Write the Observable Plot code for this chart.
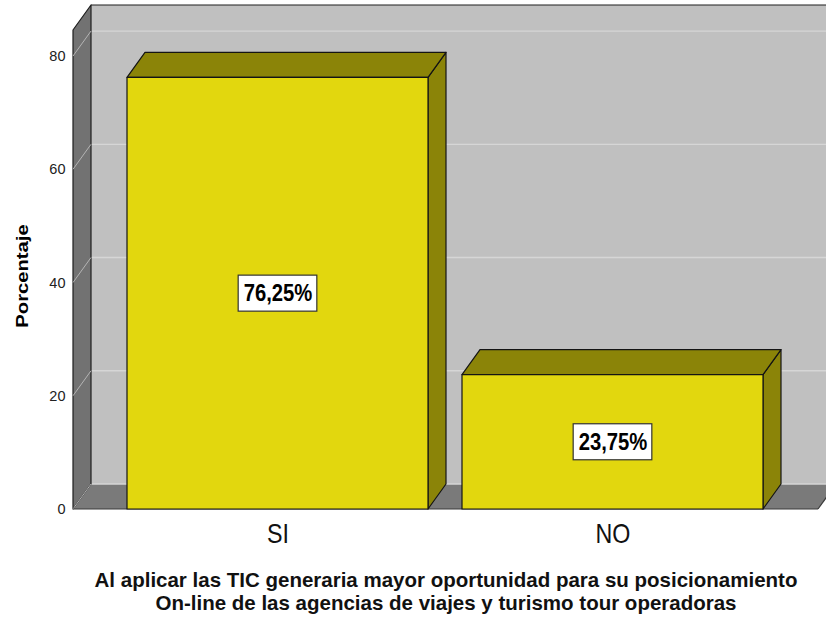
<!DOCTYPE html>
<html><head><meta charset="utf-8">
<script src="https://cdn.jsdelivr.net/npm/d3@7"></script>
<script src="https://cdn.jsdelivr.net/npm/@observablehq/plot@0.6"></script>
<style>
body{margin:0;background:#fff;}
#chart{width:826px;height:560px;}
#caption{font-family:"Liberation Sans",Arial,sans-serif;font-weight:bold;font-size:20.5px;line-height:22.5px;text-align:center;width:760px;padding-left:66px;margin-top:9px;color:#111;}
#caption div{white-space:nowrap;}
</style></head><body>
<div id="chart"></div>
<div id="caption"><div id="cap1"></div><div id="cap2"></div></div>
<script>
const categories = ["SI", "NO"];
const percentages = [76.25, 23.75];
const valueLabels = ["76,25%", "23,75%"];
const yTicks = [0, 20, 40, 60, 80];
const yLabel = "Porcentaje";
const captionLines = [
  "Al aplicar las TIC generaria mayor oportunidad para su posicionamiento",
  "On-line de las agencias de viajes y turismo tour operadoras"
];

const data = categories.map((c, i) => ({category: c, value: percentages[i], label: valueLabels[i]}));

const FONT = '"Liberation Sans",Arial,sans-serif';
const DX = 18, DY = -25;
const NS = "http://www.w3.org/2000/svg";
function el(tag, attrs) {
  const e = document.createElementNS(NS, tag);
  for (const k in attrs) e.setAttribute(k, attrs[k]);
  return e;
}
function pts(a) { return a.map(p => p.join(",")).join(" "); }

function walls(index, scales, values, dims) {
  const g = el("g", {});
  const y = scales.y;
  const xL = dims.marginLeft, xR = dims.width - dims.marginRight;
  const yB = y(0), yT = dims.marginTop;
  g.append(el("rect", {x: xL + DX, y: yT + DY, width: xR - xL + 2, height: yB - yT, fill: "#c0c0c0"}));
  g.append(el("polygon", {points: pts([[xL, yB], [xR, yB], [xR + DX, yB + DY], [xL + DX, yB + DY]]), fill: "#7a7a7a"}));
  for (const t of yTicks) {
    g.append(el("line", {x1: xL + DX, x2: xR + DX + 4, y1: y(t) + DY, y2: y(t) + DY, stroke: "#d6d6d6", "stroke-width": 1.3}));
  }
  g.append(el("polygon", {points: pts([[xL, yT], [xL + DX, yT + DY], [xL + DX, yB + DY], [xL, yB]]), fill: "#727272", stroke: "#1e1e1e", "stroke-width": 1.2, "stroke-linejoin": "round"}));
  for (const t of yTicks) {
    g.append(el("line", {x1: xL, x2: xL + DX, y1: y(t), y2: y(t) + DY, stroke: "#b4b4b4", "stroke-width": 1}));
  }
  g.append(el("line", {x1: xL + DX, x2: xR + DX + 4, y1: yT + DY, y2: yT + DY, stroke: "#1e1e1e", "stroke-width": 1.2}));
  g.append(el("line", {x1: xL, x2: xR, y1: yB, y2: yB, stroke: "#3a3a3a", "stroke-width": 1.2}));
  g.append(el("line", {x1: xR, x2: xR + DX, y1: yB, y2: yB + DY, stroke: "#3a3a3a", "stroke-width": 1.2}));
  return g;
}

function bars3d(index, scales, values, dims) {
  const g = el("g", {});
  const x = scales.x, y = scales.y;
  const bw = x.bandwidth();
  data.forEach(d => {
    const x0 = x(d.category), x1 = x0 + bw, y0 = y(0), y1 = y(d.value);
    const common = {stroke: "#141414", "stroke-width": 1.2, "stroke-linejoin": "round"};
    g.append(el("polygon", Object.assign({points: pts([[x1, y0], [x1, y1], [x1 + DX, y1 + DY], [x1 + DX, y0 + DY]]), fill: "#8b8408"}, common)));
    g.append(el("polygon", Object.assign({points: pts([[x0, y1], [x0 + DX, y1 + DY], [x1 + DX, y1 + DY], [x1, y1]]), fill: "#8b8408"}, common)));
    g.append(el("rect", Object.assign({x: x0, y: y1, width: bw, height: y0 - y1, fill: "#e2d70e"}, common)));
  });
  return g;
}

const ctx = document.createElement("canvas").getContext("2d");
function labelBoxes(index, scales, values, dims) {
  const g = el("g", {});
  const x = scales.x, y = scales.y;
  const bw = x.bandwidth();
  ctx.font = "bold 23px " + FONT;
  data.forEach(d => {
    const cx = x(d.category) + bw / 2, cy = y(d.value / 2);
    const w = ctx.measureText(d.label).width * 0.88 + 10, h = 36;
    g.append(el("rect", {x: cx - w / 2, y: cy - h / 2, width: w, height: h, fill: "#ffffff", stroke: "#333", "stroke-width": 1.2}));
  });
  return g;
}

const chart = Plot.plot({
  width: 826,
  height: 560,
  marginTop: 30,
  marginBottom: 51,
  marginLeft: 73,
  marginRight: 8,
  style: {fontFamily: FONT, fontSize: "14.5px", color: "#222", background: "#fff"},
  x: {type: "band", domain: categories, range: [110.25, 779.75], paddingInner: 0.1015, paddingOuter: 0.05, axis: null},
  y: {domain: [0, 84.6], ticks: yTicks, tickSize: 0, tickPadding: 8, label: null},
  marks: [
    walls,
    bars3d,
    labelBoxes,
    Plot.text(data, {x: "category", y: d => d.value / 2, text: "label", fontSize: 23, fontWeight: "bold", fill: "#000"}),
    Plot.text(data, {x: "category", y: () => 0, text: "category", fontSize: 28, dy: 25, fill: "#111"}),
    Plot.text([yLabel], {frameAnchor: "left", text: d => d, rotate: -90, textAnchor: "middle", dx: -51, dy: 6, fontSize: 17, fontWeight: "bold", fill: "#000"})
  ]
});
document.getElementById("chart").append(chart);

// horizontal squeeze of the label glyphs, as in the original rendering
function squeeze(t, f) {
  const w = t.getComputedTextLength();
  if (w > 0) {
    t.setAttribute("textLength", w * f);
    t.setAttribute("lengthAdjust", "spacingAndGlyphs");
  }
}
chart.querySelectorAll("text").forEach(t => {
  const s = t.textContent;
  if (valueLabels.includes(s)) squeeze(t, 0.88);
  else if (categories.includes(s)) squeeze(t, 0.83);
  else if (s === yLabel) squeeze(t, 1.19);
});
document.getElementById("cap1").textContent = captionLines[0];
document.getElementById("cap2").textContent = captionLines[1];
</script>
</body></html>
